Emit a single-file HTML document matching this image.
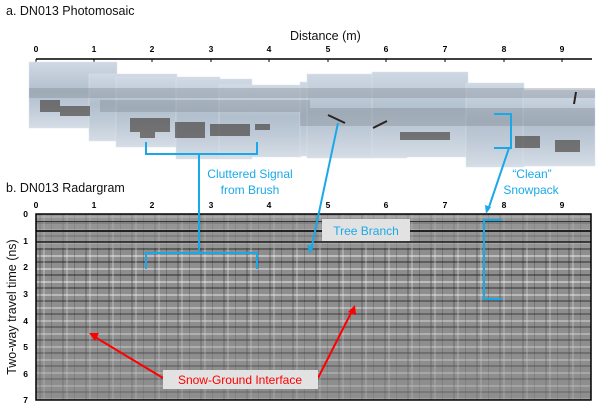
<!DOCTYPE html>
<html><head><meta charset="utf-8"><style>
body{margin:0;background:#fff;width:600px;height:408px;overflow:hidden}
svg{display:block}
text{font-family:"Liberation Sans",Arial,sans-serif}
</style></head><body>
<svg width="600" height="408" viewBox="0 0 600 408" xmlns="http://www.w3.org/2000/svg">
<defs>
<pattern id="hb" width="600" height="13" patternUnits="userSpaceOnUse" y="214">
<rect width="600" height="13" fill="#8e8e8e"/>
<rect y="2" width="600" height="2" fill="#bdbdbd"/>
<rect y="8" width="600" height="2" fill="#5e5e5e"/>
</pattern>
<pattern id="vb" width="23" height="400" patternUnits="userSpaceOnUse" x="36">
<rect x="3" width="2" height="400" fill="#222" opacity=".25"/>
<rect x="7" width="2" height="400" fill="#fff" opacity=".25"/>
<rect x="15" width="1" height="400" fill="#000" opacity=".2"/>
</pattern>
<linearGradient id="ph" x1="0" y1="0" x2="0" y2="1">
<stop offset="0" stop-color="#cfd9e4"/><stop offset=".45" stop-color="#b2bfcd"/><stop offset=".65" stop-color="#bcc8d5"/><stop offset="1" stop-color="#d5dde6"/>
</linearGradient>
<linearGradient id="fade" x1="0" y1="0" x2="0" y2="1">
<stop offset="0" stop-color="#8e8e8e" stop-opacity="0"/><stop offset="1" stop-color="#8e8e8e" stop-opacity=".6"/>
</linearGradient>
</defs>
<text x="6" y="15" font-size="12.5" fill="#111">a. DN013 Photomosaic</text>
<text x="290" y="40" font-size="12.5" fill="#111">Distance (m)</text>
<line x1="36" y1="59" x2="592" y2="59" stroke="#000" stroke-width="1.5"/>
<g font-size="8.5" font-weight="bold" text-anchor="middle" fill="#000">
<text x="36" y="52">0</text><text x="94" y="52">1</text><text x="152" y="52">2</text><text x="211" y="52">3</text><text x="269" y="52">4</text><text x="328" y="52">5</text><text x="386" y="52">6</text><text x="445" y="52">7</text><text x="504" y="52">8</text><text x="562" y="52">9</text>
<text x="36" y="208">0</text><text x="94" y="208">1</text><text x="152" y="208">2</text><text x="211" y="208">3</text><text x="269" y="208">4</text><text x="328" y="208">5</text><text x="386" y="208">6</text><text x="445" y="208">7</text><text x="504" y="208">8</text><text x="562" y="208">9</text>
</g>
<g stroke="#000"><line x1="36" y1="59" x2="36" y2="62"/><line x1="94" y1="59" x2="94" y2="62"/><line x1="152" y1="59" x2="152" y2="62"/><line x1="211" y1="59" x2="211" y2="62"/><line x1="269" y1="59" x2="269" y2="62"/><line x1="328" y1="59" x2="328" y2="62"/><line x1="386" y1="59" x2="386" y2="62"/><line x1="445" y1="59" x2="445" y2="62"/><line x1="504" y1="59" x2="504" y2="62"/><line x1="562" y1="59" x2="562" y2="62"/></g>
<!-- photomosaic -->
<g fill="url(#ph)" stroke="#dde3ea" stroke-width=".5">
<rect x="29" y="62" width="88" height="66"/>
<rect x="89" y="74" width="88" height="67"/>
<rect x="116" y="77" width="104" height="70"/>
<rect x="176" y="79" width="76" height="80"/>
<rect x="219" y="85" width="82" height="72"/>
<rect x="300" y="82" width="75" height="74"/>
<rect x="307" y="74" width="100" height="84"/>
<rect x="372" y="72" width="96" height="85"/>
<rect x="466" y="83" width="58" height="84"/>
<rect x="523" y="90" width="72" height="76"/>
</g>
<g fill="#7d8590" opacity=".35">
<rect x="29" y="88" width="566" height="10"/>
<rect x="100" y="100" width="210" height="12"/>
<rect x="300" y="108" width="295" height="18"/>
</g>
<g fill="#3b342e" opacity=".6">
<rect x="40" y="100" width="20" height="12"/><rect x="60" y="106" width="30" height="10"/>
<rect x="130" y="118" width="40" height="14"/><rect x="175" y="122" width="30" height="16"/><rect x="210" y="124" width="40" height="12"/>
<rect x="140" y="128" width="15" height="10"/><rect x="255" y="124" width="15" height="6"/>
<rect x="400" y="132" width="50" height="8"/><rect x="515" y="136" width="25" height="12"/><rect x="555" y="140" width="25" height="12"/>
</g>
<g stroke="#2b2420" stroke-width="2"><line x1="328" y1="115" x2="345" y2="123"/><line x1="373" y1="128" x2="387" y2="121"/><line x1="576" y1="92" x2="574" y2="104"/></g>
<!-- radargram -->
<rect x="36" y="214" width="555" height="186" fill="url(#hb)"/>
<rect x="36" y="214" width="555" height="186" fill="url(#vb)"/>
<rect x="36" y="214" width="555" height="34" fill="#9a9a9a" opacity=".6"/>
<rect x="36" y="221" width="555" height="1" fill="#333"/>
<rect x="36" y="230" width="555" height="2" fill="#222"/>
<rect x="36" y="241" width="555" height="2" fill="#111" opacity=".7"/>
<rect x="36" y="280" width="555" height="120" fill="url(#fade)"/>
<rect x="36" y="214" width="555" height="186" fill="none" stroke="#000" stroke-width="1.5"/>
<text x="6" y="192" font-size="12.5" fill="#111">b. DN013 Radargram</text>
<g font-size="8.5" font-weight="bold" text-anchor="end" fill="#000">
<text x="28" y="217">0</text><text x="28" y="244">1</text><text x="28" y="270">2</text><text x="28" y="297">3</text><text x="28" y="324">4</text><text x="28" y="350">5</text><text x="28" y="377">6</text><text x="28" y="403">7</text>
</g>
<text transform="translate(16,307) rotate(-90)" font-size="12.5" text-anchor="middle" fill="#111">Two-way travel time (ns)</text>
<!-- annotations -->
<g stroke="#1aa9e8" stroke-width="2" fill="none">
<polyline points="146,142 146,154 257,154 257,142"/>
<line x1="199" y1="154" x2="199" y2="253"/>
<polyline points="146,269 146,253 257,253 257,269"/>
<line x1="338" y1="123" x2="311" y2="250"/>
<polyline points="494,114 511,114 511,148 494,148"/>
<line x1="509" y1="148" x2="488" y2="210"/>
<polyline points="502,220 484,220 484,299 502,299"/>
</g>
<polygon points="310,254 307,245 314,246" fill="#1aa9e8"/>
<polygon points="486,214 485,205 491,207" fill="#1aa9e8"/>
<g font-size="12" fill="#1aa9e8" text-anchor="middle">
<text x="250" y="178">Cluttered Signal</text><text x="250" y="194">from Brush</text>
<text x="532" y="178">“Clean”</text><text x="531" y="194">Snowpack</text>
</g>
<rect x="322" y="219" width="88" height="22" fill="#e2e2e2"/>
<text x="366" y="235" font-size="12" fill="#1aa9e8" text-anchor="middle">Tree Branch</text>
<g stroke="#f00" stroke-width="2"><line x1="163" y1="378" x2="95" y2="337"/><line x1="318" y1="378" x2="352" y2="311"/></g>
<polygon points="89,333 99,333 95,341" fill="#f00"/>
<polygon points="355,305 356,315 348,312" fill="#f00"/>
<rect x="163" y="370" width="155" height="19" fill="#e2e2e2"/>
<text x="240" y="384" font-size="12" fill="#f00" text-anchor="middle">Snow-Ground Interface</text>
</svg>
</body></html>
